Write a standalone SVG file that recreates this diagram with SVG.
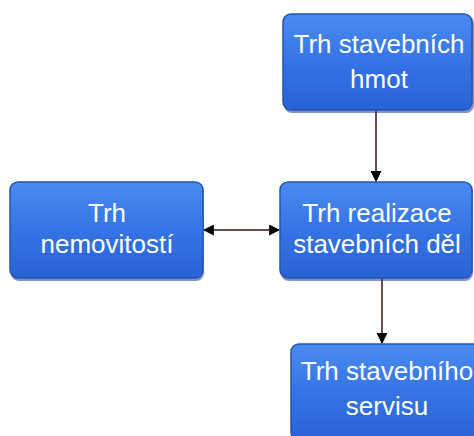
<svg xmlns="http://www.w3.org/2000/svg" width="474" height="436" viewBox="0 0 474 436">
<style>
.box{fill:url(#g);stroke:#2254b8;stroke-width:1.5}
.sh{fill:#1a3f8a;opacity:0.55}
.t{font-family:"Liberation Sans",Arial,sans-serif;font-size:26px;fill:#ffffff;text-anchor:middle}
.c{stroke:#3a1515;stroke-width:1.5;fill:none}
</style>
<defs>
<linearGradient id="g" x1="0" y1="0" x2="0" y2="1">
<stop offset="0" stop-color="#4a8cf0"/>
<stop offset="0.5" stop-color="#3574e4"/>
<stop offset="1" stop-color="#2862d4"/>
</linearGradient>
<marker id="a" viewBox="0 0 10 10" refX="9" refY="5" markerWidth="11" markerHeight="11" markerUnits="userSpaceOnUse" orient="auto-start-reverse">
<path d="M0,0 L10,5 L0,10 Z" fill="#000"/>
</marker>
</defs>
<g id="connectors">
<line class="c" x1="376" y1="110" x2="376" y2="181" marker-end="url(#a)"/>
<line class="c" x1="204" y1="230" x2="279" y2="230" marker-start="url(#a)" marker-end="url(#a)"/>
<line class="c" x1="382" y1="278" x2="382" y2="343" marker-end="url(#a)"/>
</g>
<g id="n1">
<rect class="sh" x="284" y="16" width="190" height="97" rx="8"/>
<rect class="box" x="283" y="14" width="189" height="96" rx="8"/>
<text class="t" x="379" y="53">Trh stavebních</text>
<text class="t" x="379" y="88">hmot</text>
</g>
<g id="n2">
<rect class="sh" x="11" y="184" width="193" height="97" rx="8"/>
<rect class="box" x="10" y="182" width="193" height="96" rx="8"/>
<text class="t" x="107" y="222">Trh</text>
<text class="t" x="107" y="253">nemovitostí</text>
</g>
<g id="n3">
<rect class="sh" x="281" y="184" width="192" height="97" rx="8"/>
<rect class="box" x="280" y="182" width="192" height="96" rx="8"/>
<text class="t" x="377" y="222">Trh realizace</text>
<text class="t" x="377" y="253">stavebních děl</text>
</g>
<g id="n4">
<rect class="sh" x="292" y="346" width="192" height="97" rx="8"/>
<rect class="box" x="291" y="344" width="192" height="96" rx="8"/>
<text class="t" x="387" y="380">Trh stavebního</text>
<text class="t" x="387" y="415">servisu</text>
</g>
</svg>
